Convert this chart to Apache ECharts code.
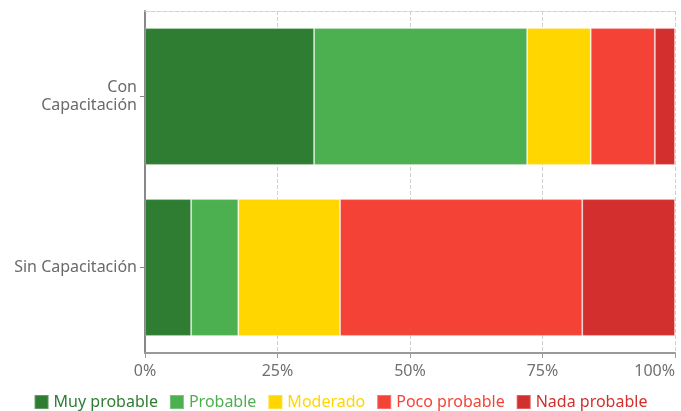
<!DOCTYPE html>
<html>
<head>
<meta charset="utf-8">
<script src="https://cdn.jsdelivr.net/npm/echarts@6/dist/echarts.min.js"></script>
<style>
  html, body { margin: 0; padding: 0; background: #fff; }
  #chart { width: 681px; height: 411px; }
</style>
</head>
<body>
<div id="chart"></div>
<script>
// Groups (drawn top to bottom)
const groups = ['Con\nCapacitación', 'Sin Capacitación'];

// Likelihood levels and their colours
const levels = ['Muy probable', 'Probable', 'Moderado', 'Poco probable', 'Nada probable'];
const levelColors = ['#2e7d32', '#4caf50', '#ffd600', '#f44336', '#d32f2f'];

// Share of answers per level (%), order follows `groups`
const muyProbable  = [31.9, 8.7];
const probable     = [40.2, 8.9];
const moderado     = [12.0, 19.2];
const pocoProbable = [12.1, 45.7];
const nadaProbable = [3.8, 17.5];

const valuesByLevel = [muyProbable, probable, moderado, pocoProbable, nadaProbable];

const xTicks = [0, 25, 50, 75, 100];

const chart = echarts.init(document.getElementById('chart'), null, { renderer: 'canvas' });

const fontFamily = '"Noto Sans", "Open Sans", sans-serif';

chart.setOption({
  animation: false,
  textStyle: { fontFamily },
  grid: { left: 145, right: 6, top: 11, bottom: 58, containLabel: false, outerBoundsMode: 'none' },
  legend: {
    bottom: -4,
    left: 'center',
    itemWidth: 14,
    itemHeight: 14,
    itemGap: 11,
    icon: 'rect',
    data: levels.map((name, i) => ({
      name,
      textStyle: { color: levelColors[i], fontSize: 16, fontFamily }
    })),
    textStyle: { fontSize: 16, fontFamily }
  },
  xAxis: [
    {
      type: 'value',
      min: xTicks[0],
      max: xTicks[xTicks.length - 1],
      interval: 25,
      axisLine: { show: true, lineStyle: { color: '#9a9a9a', width: 2 } },
      axisTick: { show: true, length: 5, lineStyle: { color: '#9a9a9a' } },
      axisLabel: {
        formatter: '{value}%',
        color: '#707070',
        fontSize: 16,
        margin: 10,
        alignMaxLabel: 'right'
      },
      splitLine: { show: true, lineStyle: { type: 'dashed', color: '#d0d0d0' } }
    },
    {
      type: 'value',
      position: 'top',
      min: 0,
      max: 100,
      axisLine: { show: true, lineStyle: { type: 'dashed', color: '#d0d0d0' } },
      axisTick: { show: false },
      axisLabel: { show: false },
      splitLine: { show: false }
    }
  ],
  yAxis: {
    type: 'category',
    data: groups,
    inverse: true,
    axisLine: { show: true, lineStyle: { color: '#888888', width: 2 } },
    axisTick: { show: true, alignWithLabel: true, length: 5, lineStyle: { color: '#888888' } },
    axisLabel: { color: '#6a6a6a', fontSize: 16, margin: 8, lineHeight: 18, align: 'right' }
  },
  series: levels.map((name, i) => ({
    name,
    type: 'bar',
    stack: 'total',
    barCategoryGap: '20%',
    data: valuesByLevel[i],
    itemStyle: {
      color: levelColors[i],
      borderColor: 'rgba(255,255,255,0.25)',
      borderWidth: 1
    }
  }))
});
</script>
</body>
</html>
